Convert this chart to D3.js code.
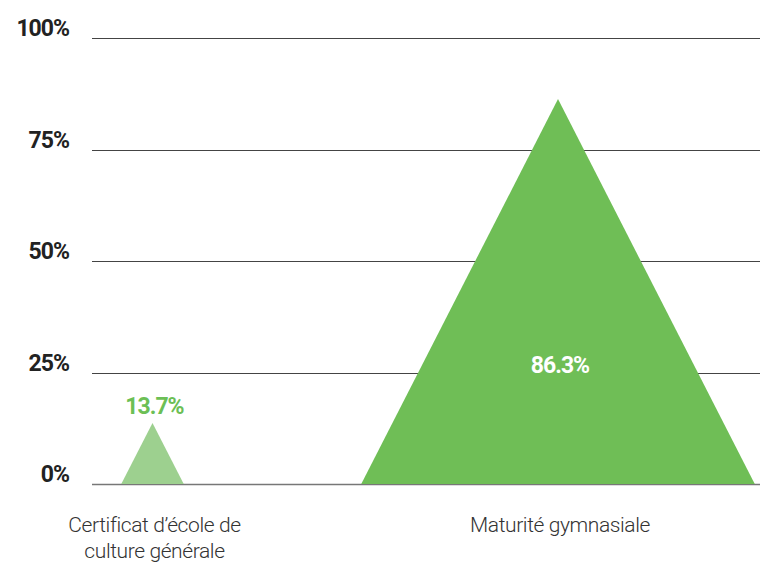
<!DOCTYPE html>
<html>
<head>
<meta charset="utf-8">
<script src="https://cdn.jsdelivr.net/npm/d3@7"></script>
<style>
  html, body { margin:0; padding:0; background:#fff; }
  svg { display:block; }
</style>
</head>
<body>
<script>
// data
var categories = ["Certificat d\u2019école de culture générale", "Maturité gymnasiale"];
var labelLines = [["Certificat d\u2019école de", "culture générale"], ["Maturité gymnasiale"]];
var values = [13.7, 86.3];
var fills = ["#9dd08f", "#6fbe56"];
var yTicks = [0, 25, 50, 75, 100];

var width = 760, height = 563;
var svg = d3.select("body").append("svg")
    .attr("width", width)
    .attr("height", height);

var y = d3.scaleLinear().domain([0, 100]).range([484, 38]);
var x = d3.scalePoint().domain(categories).range([152.5, 558]);
var w = d3.scaleLinear().domain([0, 100]).range([0, 456]);

var font = "Roboto, 'Liberation Sans', sans-serif";

// grid + tick labels
var grid = svg.append("g");
grid.selectAll("line")
    .data(yTicks)
    .enter().append("line")
    .attr("x1", 92).attr("x2", 760)
    .attr("y1", function(d){ return Math.round(y(d)) + 0.5; })
    .attr("y2", function(d){ return Math.round(y(d)) + 0.5; })
    .attr("stroke", function(d){ return d == 0 ? "#777" : "#444"; })
    .attr("stroke-width", function(d){ return d == 0 ? 1.6 : 1; });

grid.selectAll("text")
    .data(yTicks)
    .enter().append("text")
    .attr("x", 69)
    .attr("y", function(d){ return y(d) - 2; })
    .attr("text-anchor", "end")
    .attr("font-family", font)
    .attr("font-weight", "bold")
    .attr("font-size", 23)
    .attr("letter-spacing", -1)
    .attr("fill", "#222")
    .text(function(d){ return d + "%"; });

// triangles
svg.selectAll("path.tri")
    .data(values)
    .enter().append("path")
    .attr("class", "tri")
    .attr("fill", function(d, i){ return fills[i]; })
    .attr("d", function(d, i){
        var cx = x(categories[i]), hw = w(d) / 2;
        return "M" + (cx - hw) + "," + y(0) + "L" + cx + "," + y(d) + "L" + (cx + hw) + "," + y(0) + "Z";
    });

// value labels: small one above apex, big one inside
svg.selectAll("text.val")
    .data(values)
    .enter().append("text")
    .attr("class", "val")
    .attr("x", function(d, i){ return x(categories[i]) + 2; })
    .attr("y", function(d, i){ return i == 0 ? y(d) - 9 : y(d / 3) + 17; })
    .attr("text-anchor", "middle")
    .attr("font-family", font)
    .attr("font-weight", "bold")
    .attr("font-size", 23)
    .attr("letter-spacing", -1)
    .attr("fill", function(d, i){ return i == 0 ? "#6cbf55" : "#fff"; })
    .text(function(d){ return d.toFixed(1) + "%"; });

// category labels
var cat = svg.selectAll("text.cat")
    .data(categories)
    .enter().append("text")
    .attr("class", "cat")
    .attr("x", function(d){ return x(d) + 2; })
    .attr("y", 532)
    .attr("text-anchor", "middle")
    .attr("font-family", font)
    .attr("font-weight", 300)
    .attr("font-size", 21)
    .attr("letter-spacing", -0.4)
    .attr("fill", "#333");
cat.each(function(d, i){
    var t = d3.select(this);
    labelLines[i].forEach(function(line, j){
        t.append("tspan").attr("x", x(d) + 2).attr("dy", j == 0 ? 0 : 26).text(line);
    });
});
</script>
</body>
</html>
